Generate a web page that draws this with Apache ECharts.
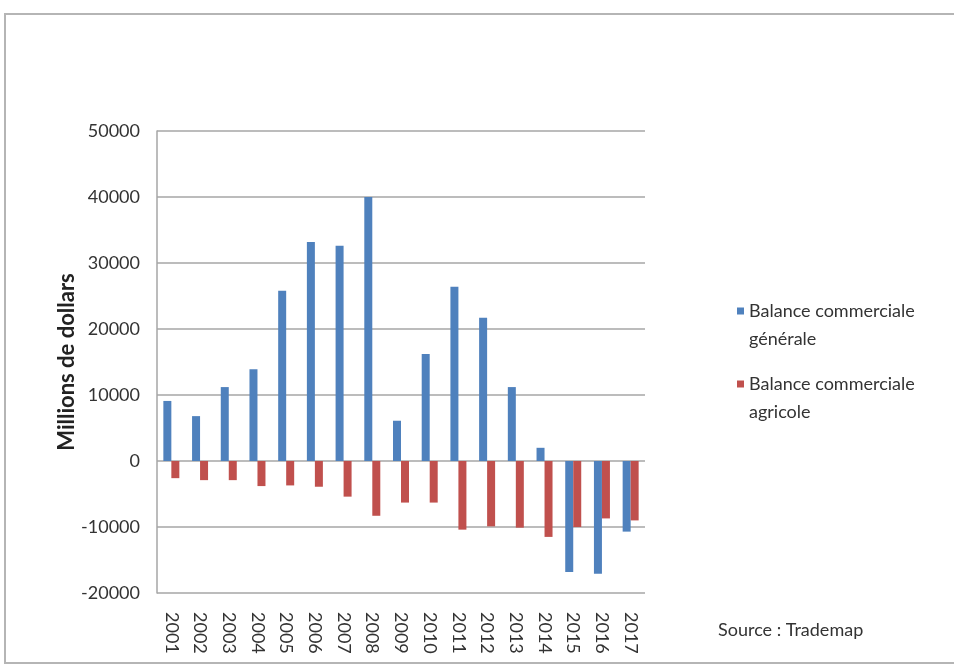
<!DOCTYPE html>
<html>
<head>
<meta charset="utf-8">
<script src="https://cdn.jsdelivr.net/npm/echarts@6/dist/echarts.min.js"></script>
<style>html,body{margin:0;padding:0;background:#fff;}#c{width:954px;height:666px;}</style>
</head>
<body>
<div id="c"></div>
<script>
const years = ['2001','2002','2003','2004','2005','2006','2007','2008','2009','2010','2011','2012','2013','2014','2015','2016','2017'];
const generale = [9100, 6800, 11200, 13900, 25800, 33200, 32600, 40000, 6100, 16200, 26400, 21700, 11200, 2000, -16800, -17100, -10700];
const agricole = [-2600, -2900, -2900, -3800, -3700, -3900, -5400, -8300, -6300, -6300, -10400, -9900, -10100, -11500, -10000, -8700, -9000];
const seriesNames = ['Balance commerciale générale', 'Balance commerciale agricole'];
const legendLines = {
  'Balance commerciale générale': ['Balance commerciale', 'générale'],
  'Balance commerciale agricole': ['Balance commerciale', 'agricole']
};
const yName = 'Millions de dollars';
const sourceText = 'Source : Trademap';

const FONT = 'Lato, "Open Sans", sans-serif';
const chart = echarts.init(document.getElementById('c'), null, {renderer: 'canvas'});
chart.setOption({
  backgroundColor: '#ffffff',
  animation: false,
  textStyle: {fontFamily: FONT},
  grid: {left: 157, right: 309, top: 131, bottom: 73},
  legend: {
    orient: 'vertical',
    left: 737,
    top: 274,
    padding: 0,
    itemGap: -1,
    itemWidth: 7,
    itemHeight: 7,
    icon: 'rect',
    data: seriesNames,
    formatter: n => '{e| }\n{a|' + legendLines[n][0] + '}\n{a|' + legendLines[n][1] + '}',
    textStyle: {
      fontFamily: FONT, fontSize: 18, color: '#333',
      rich: {
        e: {fontSize: 18, lineHeight: 28, fontFamily: FONT},
        a: {fontSize: 18, lineHeight: 28, color: '#333', fontFamily: FONT}
      }
    }
  },
  xAxis: {
    type: 'category',
    data: years,
    position: 'bottom',
    axisLine: {show: false, onZero: false},
    axisTick: {show: false},
    axisLabel: {rotate: -90, fontSize: 18, color: '#333', margin: 19, fontFamily: FONT}
  },
  yAxis: {
    type: 'value',
    min: -20000,
    max: 50000,
    interval: 10000,
    name: yName,
    nameLocation: 'middle',
    nameGap: 79,
    nameMoveOverlap: false,
    nameTextStyle: {fontSize: 22, fontWeight: 'bold', color: '#222', fontFamily: FONT},
    axisLine: {show: true, lineStyle: {color: '#a6a6a6', width: 1.5}},
    axisTick: {show: false},
    axisLabel: {fontSize: 18, color: '#333', margin: 17, fontFamily: FONT, formatter: v => String(v)},
    splitLine: {show: true, lineStyle: {color: '#a6a6a6', width: 1.5}}
  },
  series: [
    {name: seriesNames[0], type: 'bar', data: generale, barWidth: 8, barGap: '0%', itemStyle: {color: '#4f81bd'}},
    {name: seriesNames[1], type: 'bar', data: agricole, barWidth: 8, barGap: '0%', itemStyle: {color: '#c0504d'}}
  ],
  graphic: [
    {type: 'rect', shape: {x: 5, y: 14, width: 980, height: 649}, style: {fill: 'none', stroke: '#b5b5b5', lineWidth: 2}, silent: true},
    {type: 'text', left: 718, top: 621, style: {text: sourceText, font: '18px ' + FONT, fill: '#333'}}
  ]
});
</script>
</body>
</html>
